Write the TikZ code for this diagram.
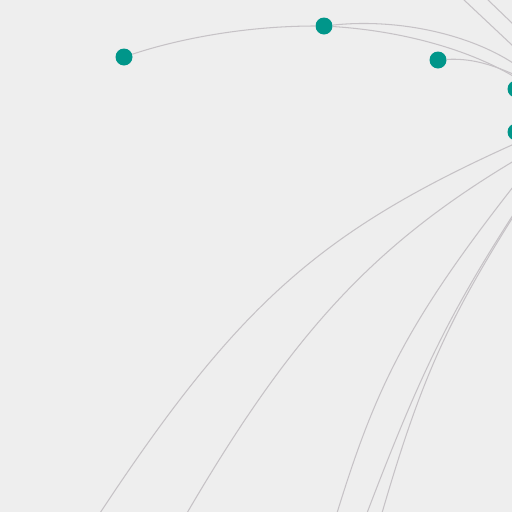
\documentclass[tikz,border=0pt]{standalone}
\definecolor{bg}{HTML}{EEEEEE}
\definecolor{dotteal}{HTML}{00968A}
\definecolor{edgegray}{HTML}{C6C2C6}
\begin{document}
\begin{tikzpicture}[x=1pt,y=-1pt,
  dot/.style={circle,fill=dotteal,draw=none,inner sep=0pt,minimum size=17pt},
  link/.style={draw=edgegray,line width=1.05pt}]
\useasboundingbox (0,0) rectangle (512,512);
\fill[bg] (0,0) rectangle (512,512);
\clip (0,0) rectangle (512,512);
% nodes
\node[dot] (n1) at (124,57) {};
\node[dot] (n2) at (324,26) {};
\node[dot] (n3) at (438,60) {};
\node[dot] (n4) at (516,89) {};
\node[dot] (n5) at (516,132) {};
% free ends
\coordinate (a0) at (100,513); \coordinate (a1) at (513,144.5);
\coordinate (b0) at (187,513); \coordinate (b1) at (513,161.5);
\coordinate (c0) at (337,513); \coordinate (c1) at (513,187);
\coordinate (d0) at (367,513); \coordinate (d1) at (513,215);
\coordinate (e0) at (382,513); \coordinate (e1) at (513,217);
\coordinate (t1a) at (463,-1); \coordinate (t1b) at (513,46);
\coordinate (t2a) at (487,-1); \coordinate (t2b) at (513,24);
\coordinate (u1) at (513,63);
\coordinate (u2) at (513,76);
\coordinate (u3) at (513,74);
% connectors
\draw[link] (n1) .. controls (178,39) and (245,26) .. (n2);
\draw[link] (n2) .. controls (400,18) and (470,35) .. (u1);
\draw[link] (n2) .. controls (390,30) and (460,45) .. (u2);
\draw[link] (n3) .. controls (470,58) and (490,64) .. (u3);
\draw[link] (t1a) -- (t1b);
\draw[link] (t2a) -- (t2b);
\draw[link] (a0) .. controls (238,304) and (321,231) .. (a1);
\draw[link] (b0) .. controls (292.7,332.4) and (374,244.9) .. (b1);
\draw[link] (c0) .. controls (375,390) and (405,325) .. (c1);
\draw[link] (d0) .. controls (420.5,372.8) and (449.5,313.8) .. (d1);
\draw[link] (e0) .. controls (420.2,382) and (446.2,323.2) .. (e1);
\end{tikzpicture}
\end{document}
